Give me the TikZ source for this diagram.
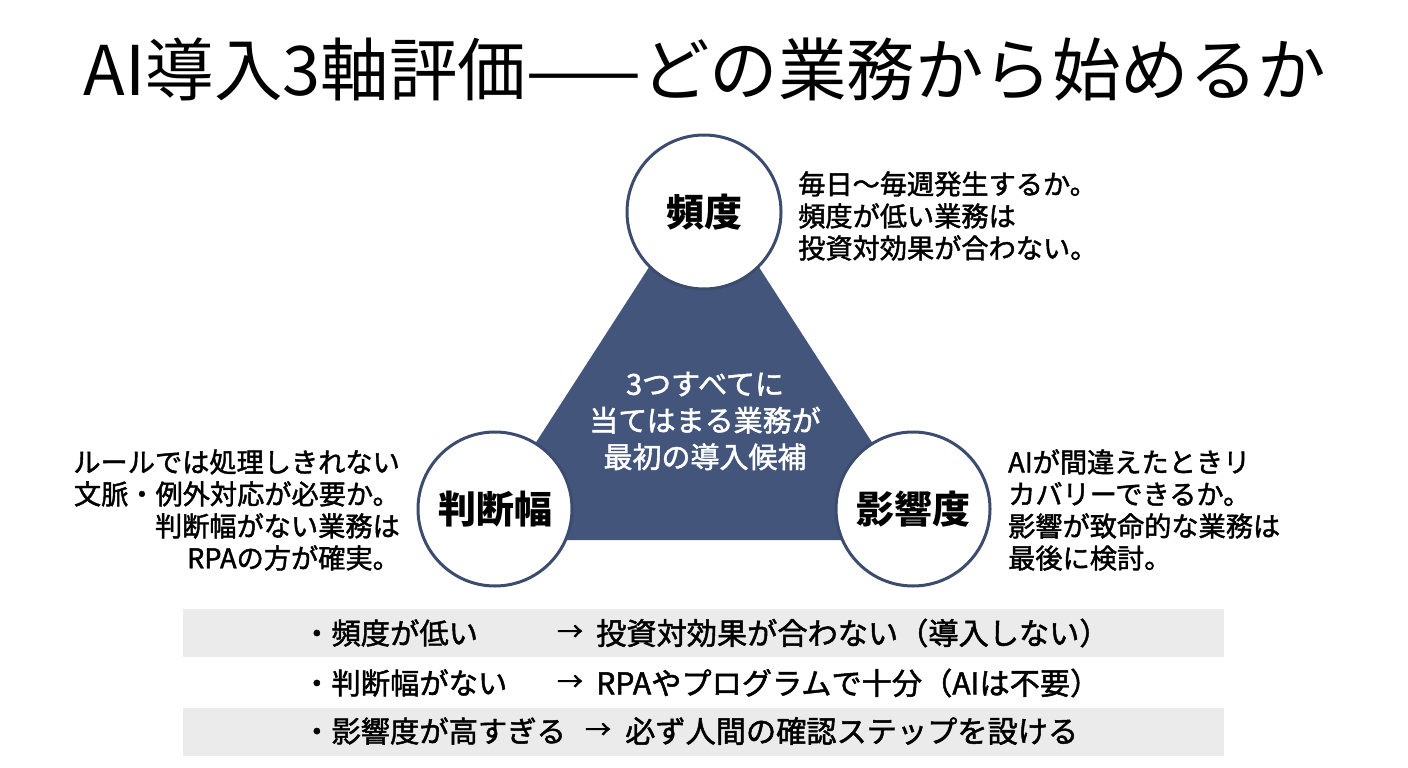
\documentclass[tikz,border=0pt]{standalone}
\usepackage{fontspec}
\setmainfont{Noto Sans CJK JP}
\newfontfamily\medfont{Noto Sans CJK JP}[FakeBold=1.6]
\definecolor{navy}{RGB}{67,85,122}
\definecolor{navyline}{RGB}{60,76,110}
\definecolor{barfill}{RGB}{235,235,235}
\tikzset{
  axis/.style={circle, draw=navyline, line width=3pt, fill=white, minimum size=154pt, inner sep=0pt,
    font=\bfseries\fontsize{38}{40}\selectfont},
  side/.style={inner sep=0pt, font=\medfont\fontsize{27.2}{32}\selectfont},
  rowtxt/.style={inner sep=0pt, anchor=west, font=\medfont\fontsize{29.3}{30}\selectfont},
  arrowtxt/.style={inner sep=0pt, font=\medfont\fontsize{26}{30}\selectfont},
}
\begin{document}
\begin{tikzpicture}[x=1pt,y=-1pt]
\useasboundingbox (0,0) rectangle (1408,768);
\fill[white] (0,0) rectangle (1408,768);
% title
\node[inner sep=0pt, font=\fontsize{68.5}{72}\selectfont] (title) at (705,70) {AI導入3軸評価——どの業務から始めるか};
% triangle
\coordinate (apex) at (704,182);
\coordinate (bl) at (473,540);
\coordinate (br) at (935,540);
\fill[navy] (apex) -- (bl) -- (br) -- cycle;
\node[text=white, align=center, inner sep=0pt, font=\medfont\fontsize{29}{36.5}\selectfont] (core) at (705,421) {3つすべてに\\当てはまる業務が\\最初の導入候補};
% circles
\node[axis] (freq) at (704,212) {頻度};
\node[axis] (judge) at (495,509) {判断幅};
\node[axis] (impact) at (913,509) {影響度};
% side texts
\node[side, anchor=west, align=left] (freqtxt) at (798,216) {毎日〜毎週発生するか。\\頻度が低い業務は\\投資対効果が合わない。};
\node[side, anchor=east, align=right] (judgetxt) at (400,510) {ルールでは処理しきれない\\文脈・例外対応が必要か。\\判断幅がない業務は\\RPAの方が確実。};
\node[side, anchor=west, align=left] (impacttxt) at (1008,510) {AIが間違えたときリ\\カバリーできるか。\\影響が致命的な業務は\\最後に検討。};
% bottom rows
\fill[barfill] (183,609) rectangle (1224,657);
\fill[barfill] (183,708) rectangle (1224,756);
\node[rowtxt] (r1a) at (302,633) {・頻度が低い};
\node[arrowtxt] (r1b) at (570,633) {→};
\node[rowtxt, font=\medfont\fontsize{30.2}{30}\selectfont] (r1c) at (596,633) {投資対効果が合わない（導入しない）};
\node[rowtxt] (r2a) at (302,683) {・判断幅がない};
\node[arrowtxt] (r2b) at (570,683) {→};
\node[rowtxt, font=\medfont\fontsize{30.2}{30}\selectfont] (r2c) at (596,683) {RPAやプログラムで十分（AIは不要）};
\node[rowtxt] (r3a) at (302,731) {・影響度が高すぎる};
\node[arrowtxt] (r3b) at (598,731) {→};
\node[rowtxt, font=\medfont\fontsize{30.2}{30}\selectfont] (r3c) at (625,731) {必ず人間の確認ステップを設ける};
\end{tikzpicture}
\end{document}
